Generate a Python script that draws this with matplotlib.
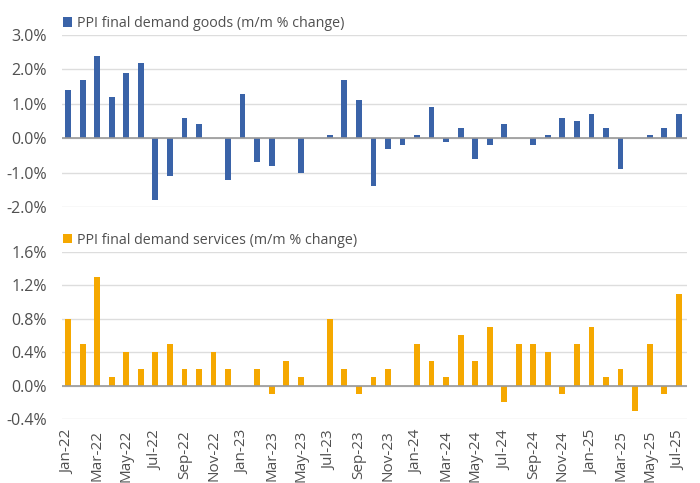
import matplotlib
matplotlib.use("Agg")
import matplotlib.pyplot as plt
import numpy as np

months = ["Jan-22","Feb-22","Mar-22","Apr-22","May-22","Jun-22","Jul-22","Aug-22","Sep-22","Oct-22","Nov-22","Dec-22",
          "Jan-23","Feb-23","Mar-23","Apr-23","May-23","Jun-23","Jul-23","Aug-23","Sep-23","Oct-23","Nov-23","Dec-23",
          "Jan-24","Feb-24","Mar-24","Apr-24","May-24","Jun-24","Jul-24","Aug-24","Sep-24","Oct-24","Nov-24","Dec-24",
          "Jan-25","Feb-25","Mar-25","Apr-25","May-25","Jun-25","Jul-25"]
goods = [1.4, 1.7, 2.4, 1.2, 1.9, 2.2, -1.8, -1.1, 0.6, 0.4, 0.0, -1.2,
         1.3, -0.7, -0.8, 0.0, -1.0, 0.0, 0.1, 1.7, 1.1, -1.4, -0.3, -0.2,
         0.1, 0.9, -0.1, 0.3, -0.6, -0.2, 0.4, 0.0, -0.2, 0.1, 0.6, 0.5,
         0.7, 0.3, -0.9, 0.0, 0.1, 0.3, 0.7]
services = [0.8, 0.5, 1.3, 0.1, 0.4, 0.2, 0.4, 0.5, 0.2, 0.2, 0.4, 0.2,
            0.0, 0.2, -0.1, 0.3, 0.1, 0.0, 0.8, 0.2, -0.1, 0.1, 0.2, 0.0,
            0.5, 0.3, 0.1, 0.6, 0.3, 0.7, -0.2, 0.5, 0.5, 0.4, -0.1, 0.5,
            0.7, 0.1, 0.2, -0.3, 0.5, -0.1, 1.1]
goods_label = "PPI final demand goods (m/m % change)"
services_label = "PPI final demand services (m/m % change)"
goods_ticks = [-2.0, -1.0, 0.0, 1.0, 2.0, 3.0]
services_ticks = [-0.4, 0.0, 0.4, 0.8, 1.2, 1.6]

plt.rcParams['font.family'] = ['Open Sans', 'DejaVu Sans']
TXT = "#505050"
BLUE = "#3a63a8"
ORANGE = "#f5a800"
GRID = "#dddddd"

fig = plt.figure(figsize=(7, 4.83), dpi=100)
x = np.arange(len(months))

def style(ax, ticks, fmt):
    ax.set_xlim(-0.42, len(months) - 0.45)
    ax.set_ylim(ticks[0], ticks[-1])
    ax.set_yticks(ticks)
    ax.set_yticklabels([fmt.format(t) for t in ticks], color=TXT, fontsize=11.5)
    for s in ax.spines.values():
        s.set_visible(False)
    ax.grid(axis='y', color=GRID, linewidth=1)
    ax.set_axisbelow(True)
    ax.axhline(0, color="#999999", linewidth=1.2, zorder=3)
    ax.tick_params(axis='y', length=0, pad=11)

def legend(ax):
    leg = ax.legend(loc='lower left', bbox_to_anchor=(-0.005, 1.0), frameon=False, fontsize=10.25,
                    handlelength=0.65, handleheight=0.65, handletextpad=0.35, borderaxespad=0.2, borderpad=0.1)
    for t in leg.get_texts():
        t.set_color(TXT)

ax1 = fig.add_axes([0.0886, 0.5714, 0.8924, 0.356])
ax1.bar(x, goods, width=0.4, color=BLUE, label=goods_label, zorder=2)
style(ax1, goods_ticks, "{:.1f}%")
ax1.set_xticks([])
legend(ax1)

ax2 = fig.add_axes([0.0886, 0.1325, 0.8924, 0.3458])
ax2.bar(x, services, width=0.4, color=ORANGE, label=services_label, zorder=2)
style(ax2, services_ticks, "{:.1f}%")
ax2.set_xticks(x[::2])
ax2.set_xticklabels(months[::2], rotation=90, color=TXT, fontsize=11)
ax2.tick_params(axis='x', length=0, pad=8)
legend(ax2)

fig.savefig("out.png", dpi=100, facecolor="white")
